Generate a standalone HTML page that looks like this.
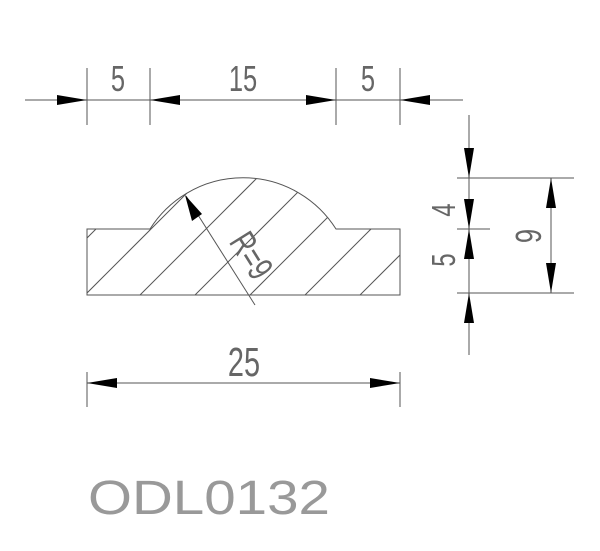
<!DOCTYPE html>
<html><head><meta charset="utf-8"><style>html,body{margin:0;padding:0;background:#fff}svg{display:block}</style></head>
<body>
<svg width="600" height="551" viewBox="0 0 600 551" xmlns="http://www.w3.org/2000/svg">
<defs>
<clipPath id="c"><path d="M87 229 H150 A110 110 0 0 1 336 229 H400 V295 H87 Z"/></clipPath>
</defs>
<g stroke="#555" stroke-width="1" fill="none">
<path d="M87 229 H150 A110 110 0 0 1 336 229 H400 V295 H87 Z"/>
<g clip-path="url(#c)">
<line x1="40" y1="340" x2="240" y2="140"/>
<line x1="95" y1="340" x2="295" y2="140"/>
<line x1="150" y1="340" x2="350" y2="140"/>
<line x1="205" y1="340" x2="405" y2="140"/>
<line x1="260" y1="340" x2="460" y2="140"/>
<line x1="315" y1="340" x2="515" y2="140"/>
<line x1="-15" y1="340" x2="185" y2="140"/>
</g>
<line x1="25" y1="100" x2="463" y2="100"/>
<line x1="87" y1="68" x2="87" y2="125"/>
<line x1="150" y1="68" x2="150" y2="125"/>
<line x1="336" y1="68" x2="336" y2="125"/>
<line x1="400" y1="68" x2="400" y2="125"/>
<line x1="469" y1="115" x2="469" y2="355"/>
<line x1="457" y1="178" x2="574" y2="178"/>
<line x1="457" y1="229" x2="490" y2="229"/>
<line x1="457" y1="293" x2="574" y2="293"/>
<line x1="551" y1="178" x2="551" y2="293"/>
<line x1="87" y1="383" x2="400" y2="383"/>
<line x1="87" y1="372" x2="87" y2="407"/>
<line x1="400" y1="372" x2="400" y2="407"/>
<line x1="186" y1="196" x2="255" y2="305"/>
</g>
<g fill="#000">
<path d="M87 100 l-30 -5 v10z"/>
<path d="M150 100 l30 -5 v10z"/>
<path d="M336 100 l-30 -5 v10z"/>
<path d="M400 100 l30 -5 v10z"/>
<path d="M469 178 l-5 -30 h10z"/>
<path d="M469 229 l-5 -30 h10z"/>
<path d="M469 229 l-5 30 h10z"/>
<path d="M469 293 l-5 30 h10z"/>
<path d="M551 178 l-5 30 h10z"/>
<path d="M551 293 l-5 -30 h10z"/>
<path d="M87 383 l30 -5 v10z"/>
<path d="M400 383 l-30 -5 v10z"/>
<path d="M185 195 l7 26 l10 -7z"/>
</g>
<g font-family="Liberation Sans, sans-serif" fill="#666" text-anchor="middle">
<text transform="translate(118,91) scale(0.85,1.2)" font-size="30">5</text>
<text transform="translate(243,91) scale(0.85,1.2)" font-size="30">15</text>
<text transform="translate(368,91) scale(0.85,1.2)" font-size="30">5</text>
<text transform="translate(244,376) scale(0.85,1.2)" font-size="34">25</text>
<text transform="translate(455,210) rotate(-90) scale(0.85,1.2)" font-size="28">4</text>
<text transform="translate(455,260) rotate(-90) scale(0.85,1.2)" font-size="28">5</text>
<text transform="translate(541,236) rotate(-90) scale(0.85,1.2)" font-size="30">9</text>
<text transform="translate(241,262) rotate(58) scale(0.85,1.2)" font-size="30">R=9</text>
<text transform="translate(88,514) scale(1,1.15)" font-size="42" fill="#999" text-anchor="start" textLength="242" lengthAdjust="spacingAndGlyphs">ODL0132</text>
</g>
</svg>
</body></html>
